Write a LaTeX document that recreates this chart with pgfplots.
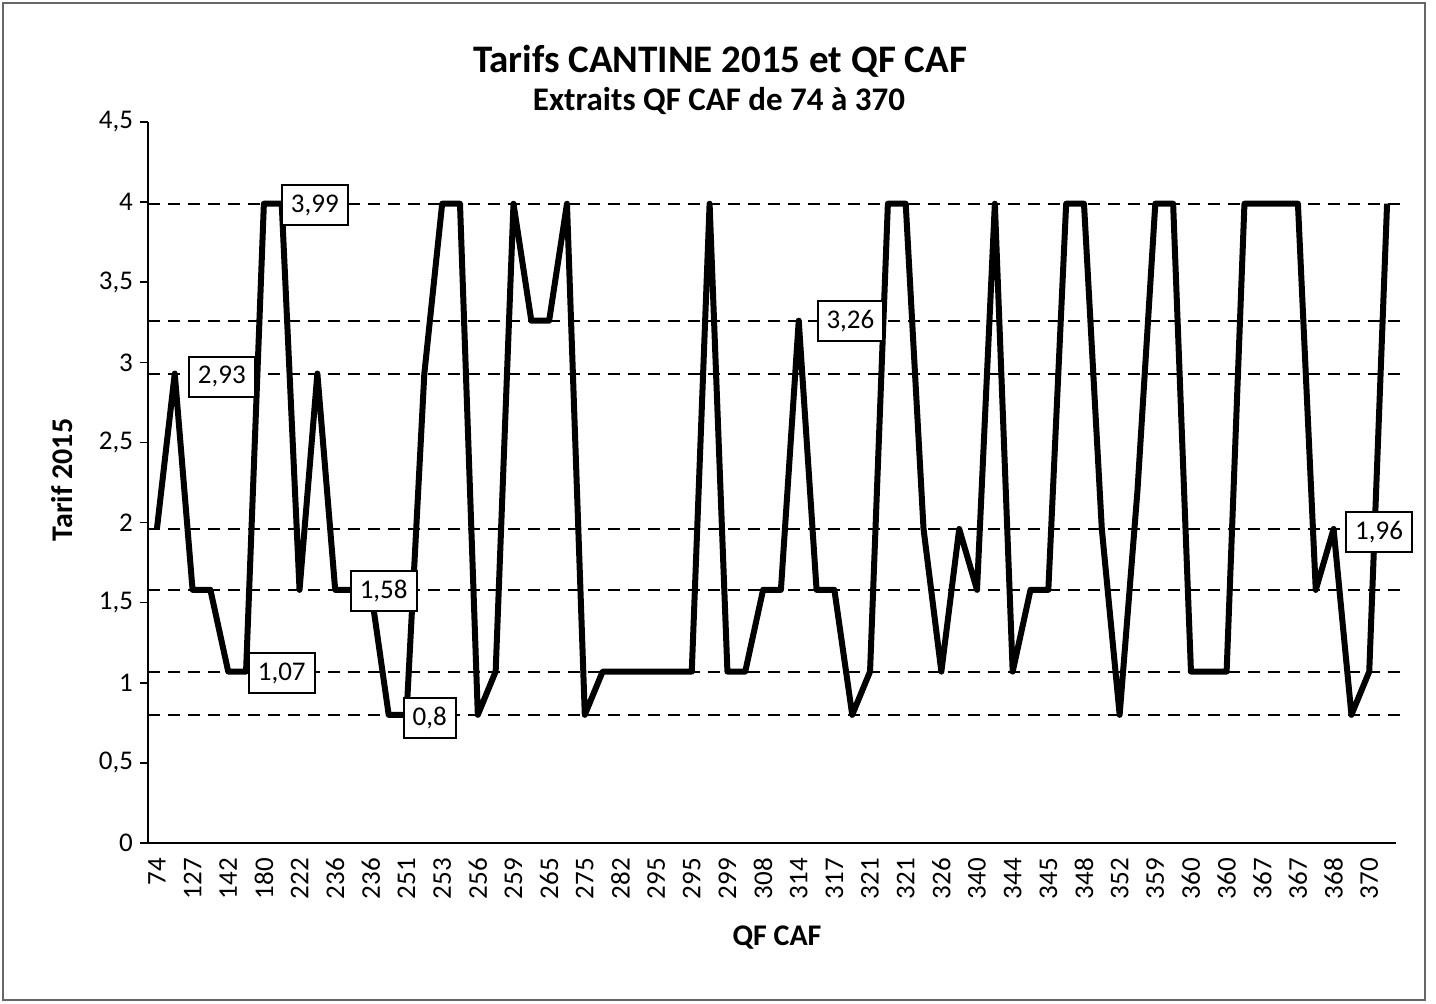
\documentclass[border=0pt]{standalone}
\usepackage{fontspec}
\setmainfont{Carlito}
\usepackage{pgfplots}
\pgfplotsset{compat=1.18}
\begin{document}
\begin{tikzpicture}[x=1pt,y=1pt,
    lbl/.style={draw=black, line width=1pt, fill=white, minimum height=20pt,
        inner xsep=4.5pt, font=\fontsize{13.5}{14}\selectfont}]
\useasboundingbox (-74,-80) rectangle (644,421.5);
\draw[black!60, line width=0.8pt] (-72.5,-78.5) rectangle (638.5,420);
\begin{axis}[
    at={(0,0)}, anchor=south west,
    scale only axis,
    width=624pt, height=360.5pt,
    xmin=-0.5, xmax=69.5,
    ymin=0, ymax=4.5,
    clip=false,
    axis x line=bottom, axis y line=left,
    axis line style={-, black, line width=0.9pt},
    ytick={0,0.5,1,1.5,2,2.5,3,3.5,4,4.5},
    xtick={0,2,...,68},
    xticklabels={74,127,142,180,222,236,236,251,253,256,259,265,275,282,295,295,299,308,314,317,321,321,326,340,344,345,348,352,359,360,360,367,367,368,370},
    x tick label style={rotate=90, anchor=east},
    tick label style={font=\fontsize{13.5}{14}\selectfont},
    x tick style={draw=none},
    y tick style={black, line width=0.8pt},
    tick align=outside,
    major tick length=4pt,
    /pgf/number format/use comma,
    /pgf/number format/assume math mode=true,
]
% lignes de reference
\addplot[black, line width=1pt, dash pattern=on 6pt off 4pt] coordinates {(-0.5,3.99) (69.9,3.99)};
\addplot[black, line width=1pt, dash pattern=on 6pt off 4pt] coordinates {(-0.5,3.26) (69.9,3.26)};
\addplot[black, line width=1pt, dash pattern=on 6pt off 4pt] coordinates {(-0.5,2.93) (69.9,2.93)};
\addplot[black, line width=1pt, dash pattern=on 6pt off 4pt] coordinates {(-0.5,1.96) (69.9,1.96)};
\addplot[black, line width=1pt, dash pattern=on 6pt off 4pt] coordinates {(-0.5,1.58) (69.9,1.58)};
\addplot[black, line width=1pt, dash pattern=on 6pt off 4pt] coordinates {(-0.5,1.07) (69.9,1.07)};
\addplot[black, line width=1pt, dash pattern=on 6pt off 4pt] coordinates {(-0.5,0.8) (69.9,0.8)};

% Tarif 2015
\addplot[black, line width=3pt, line join=round] coordinates {
    (0,1.96) (1,2.93) (2,1.58) (3,1.58) (4,1.07) (5,1.07) (6,3.99) (7,3.99)
    (8,1.58) (9,2.93) (10,1.58) (11,1.58) (12,1.58) (13,0.8) (14,0.8) (15,2.93)
    (16,3.99) (17,3.99) (18,0.8) (19,1.07) (20,3.99) (21,3.26) (22,3.26) (23,3.99)
    (24,0.8) (25,1.07) (26,1.07) (27,1.07) (28,1.07) (29,1.07) (30,1.07) (31,3.99)
    (32,1.07) (33,1.07) (34,1.58) (35,1.58) (36,3.26) (37,1.58) (38,1.58) (39,0.8)
    (40,1.07) (41,3.99) (42,3.99) (43,1.96) (44,1.07) (45,1.96) (46,1.58) (47,3.99)
    (48,1.07) (49,1.58) (50,1.58) (51,3.99) (52,3.99) (53,1.96) (54,0.8) (55,2.2)
    (56,3.99) (57,3.99) (58,1.07) (59,1.07) (60,1.07) (61,3.99) (62,3.99) (63,3.99)
    (64,3.99) (65,1.58) (66,1.96) (67,0.8) (68,1.07) (69,3.99)
};

\node[lbl] at (axis cs:8.86,3.98) {3,99};
\node[lbl] at (axis cs:3.64,2.91) {2,93};
\node[lbl] at (axis cs:7.0,1.06) {1,07};
\node[lbl] at (axis cs:12.72,1.57) {1,58};
\node[lbl] at (axis cs:15.3,0.78) {0,8};
\node[lbl] at (axis cs:38.9,3.26) {3,26};
\node[lbl] at (axis cs:68.55,1.94) {1,96};
\end{axis}
\node[anchor=base, font=\fontsize{19.5}{20}\selectfont\bfseries] at (286,385) {Tarifs CANTINE 2015 et QF CAF};
\node[anchor=base, font=\fontsize{16.5}{17}\selectfont\bfseries] at (285.5,366) {Extraits QF CAF de 74 à 370};
\node[rotate=90, font=\fontsize{15}{16}\selectfont\bfseries] at (-43,181.5) {Tarif 2015};
\node[font=\fontsize{15}{16}\selectfont\bfseries] at (314.5,-47.5) {QF CAF};
\end{tikzpicture}
\end{document}
